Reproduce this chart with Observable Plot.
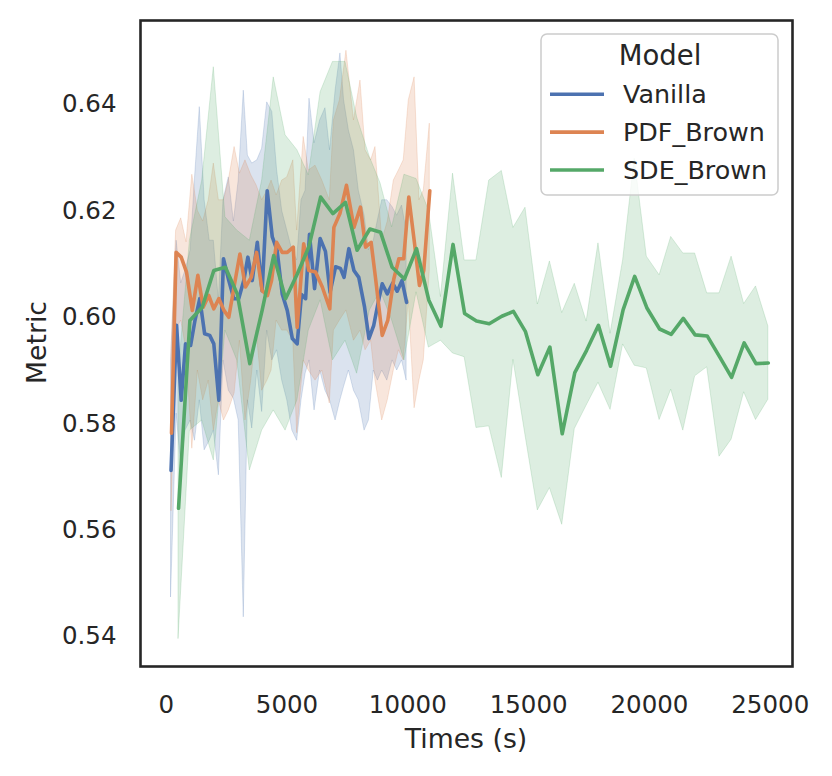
<!DOCTYPE html>
<html><head><meta charset="utf-8">
<script src="https://cdn.jsdelivr.net/npm/d3@7"></script>
<script src="https://cdn.jsdelivr.net/npm/@observablehq/plot@0.6"></script>
<style>body{margin:0;background:#fff;} #chart{width:832px;height:776px;}</style>
</head><body><div id="chart"></div>
<script>
const models = ["Vanilla", "PDF_Brown", "SDE_Brown"];
const colors = ["#4c72b0", "#dd8452", "#55a868"];
const xTicks = [0, 5000, 10000, 15000, 20000, 25000];
const yTicks = [0.54, 0.56, 0.58, 0.60, 0.62, 0.64];

const vanillaTime = [200,430,620,800,1010,1190,1390,1590,1800,1970,2180,2370,2590,2800,3000,3210,3380,3560,3770,3970,4180,4390,4590,4800,5010,5220,5420,5600,5770,5930,6140,6370,6590,6780,7010,7210,7360,7560,7770,7970,8210,8390,8590,8760,8940,9150,9370,9560,9760,9950];
const vanillaMean = [0.5712,0.5985,0.5844,0.5950,0.5947,0.5994,0.6035,0.5969,0.5966,0.5950,0.5844,0.6110,0.6069,0.6035,0.6035,0.6069,0.6113,0.6069,0.6141,0.6050,0.6238,0.6151,0.6126,0.6044,0.6013,0.5960,0.5950,0.6043,0.6035,0.6156,0.6054,0.6148,0.6124,0.6047,0.6095,0.6092,0.6075,0.6129,0.6088,0.6075,0.6019,0.5960,0.5985,0.6025,0.6063,0.6044,0.6064,0.6049,0.6069,0.6028];
const vanillaHigh = [0.592,0.6144,0.6064,0.6088,0.6126,0.626,0.6395,0.622,0.6144,0.6144,0.603,0.622,0.6263,0.618,0.6257,0.6426,0.6304,0.6289,0.6295,0.6317,0.6404,0.6386,0.6276,0.620,0.6163,0.6126,0.6107,0.622,0.6238,0.6411,0.6327,0.637,0.6393,0.6314,0.6426,0.6496,0.6408,0.6351,0.6314,0.6238,0.6191,0.6126,0.6144,0.6182,0.622,0.622,0.6207,0.6191,0.621,0.6163];
const vanillaLow = [0.5474,0.5819,0.572,0.5787,0.5806,0.5768,0.5844,0.5750,0.5768,0.5787,0.5703,0.5919,0.5862,0.5847,0.5806,0.5436,0.5844,0.5791,0.590,0.5822,0.5975,0.5919,0.5938,0.5881,0.5844,0.5787,0.5768,0.5844,0.5894,0.5919,0.5825,0.590,0.5862,0.5844,0.5806,0.5844,0.5869,0.590,0.5862,0.5844,0.5787,0.5806,0.590,0.5881,0.590,0.5881,0.5919,0.590,0.5919,0.5881];

const pdfTime = [220,410,620,840,1080,1310,1530,1760,1970,2180,2390,2590,2830,3050,3280,3520,3740,3970,4190,4360,4570,4800,5010,5260,5420,5690,5900,6180,6460,6770,6940,7190,7460,7770,8040,8250,8480,8660,8940,9170,9420,9630,9830,10040,10280,10480,10660,10910];
const pdfMean = [0.5782,0.6122,0.6113,0.6085,0.6013,0.6079,0.6019,0.6041,0.6016,0.6035,0.6013,0.6000,0.6063,0.6119,0.6057,0.6075,0.6122,0.6050,0.6041,0.6069,0.6141,0.6122,0.6122,0.6132,0.5981,0.6138,0.6088,0.6085,0.6057,0.6016,0.6169,0.6195,0.6248,0.6169,0.6207,0.6132,0.6141,0.6075,0.5966,0.5994,0.6072,0.6110,0.6110,0.6226,0.6138,0.6060,0.6088,0.6238];
const pdfHigh = [0.594,0.6163,0.6186,0.6141,0.6268,0.620,0.618,0.622,0.6289,0.622,0.622,0.6257,0.632,0.627,0.6295,0.6267,0.6248,0.622,0.6238,0.6257,0.6229,0.6257,0.6263,0.6295,0.6163,0.6339,0.6276,0.6285,0.6257,0.622,0.637,0.6408,0.6501,0.637,0.6445,0.6314,0.6295,0.632,0.6144,0.618,0.6257,0.6276,0.6295,0.6408,0.6451,0.622,0.6238,0.6364];
const pdfLow = [0.5636,0.5975,0.5994,0.5938,0.5753,0.590,0.5844,0.5881,0.5787,0.5844,0.5806,0.5825,0.5857,0.5956,0.5806,0.5881,0.5975,0.5862,0.5881,0.590,0.5994,0.5975,0.5975,0.5956,0.5782,0.5919,0.590,0.5881,0.590,0.5838,0.5975,0.5994,0.6013,0.5956,0.5975,0.5938,0.5956,0.5881,0.5806,0.5844,0.590,0.5938,0.5919,0.6032,0.5829,0.5881,0.5919,0.6088];

const sdeTime = [510,980,1490,1970,2450,2940,3460,3970,4450,4940,5430,5900,6390,6900,7420,7900,8430,8870,9350,9860,10360,10870,11370,11870,12350,12840,13370,13890,14370,14870,15380,15880,16390,16910,17400,17890,18390,18910,19390,19890,20420,20900,21400,21890,22390,22900,23400,23920,24410,24920];
const sdeMean = [0.5641,0.5994,0.6019,0.6088,0.6094,0.6044,0.5913,0.6013,0.6116,0.6035,0.6082,0.6132,0.6226,0.6195,0.6216,0.6126,0.6166,0.6160,0.6094,0.6072,0.6129,0.6032,0.5983,0.6137,0.6007,0.5993,0.5988,0.6002,0.6011,0.5973,0.5892,0.5944,0.5781,0.5896,0.5938,0.5985,0.5908,0.6014,0.6077,0.6018,0.5978,0.5968,0.5998,0.5967,0.5965,0.5926,0.5887,0.5952,0.5913,0.5914];
const sdeHigh = [0.5892,0.6144,0.6257,0.6470,0.6188,0.6163,0.6144,0.6257,0.6451,0.6342,0.6314,0.6267,0.6423,0.6480,0.6480,0.6376,0.6301,0.6252,0.6169,0.6268,0.6260,0.6201,0.6038,0.6270,0.6107,0.6107,0.6257,0.6275,0.6168,0.6206,0.6024,0.6105,0.6008,0.6063,0.5992,0.6139,0.5969,0.6107,0.6298,0.6114,0.6079,0.6151,0.6120,0.6120,0.6045,0.6045,0.6114,0.6025,0.6058,0.5983];
const sdeLow = [0.5396,0.5787,0.5806,0.5731,0.5975,0.5919,0.5712,0.5787,0.5825,0.5787,0.5844,0.5975,0.6032,0.5919,0.5956,0.5894,0.6013,0.6050,0.5994,0.5919,0.6047,0.5943,0.5956,0.5932,0.5925,0.5792,0.5795,0.5698,0.5920,0.5778,0.5637,0.5679,0.5610,0.5790,0.5834,0.5877,0.5826,0.5949,0.5909,0.5904,0.5807,0.5864,0.5787,0.5889,0.5906,0.5738,0.5770,0.5859,0.5807,0.5845];

const rows = [];
function add(model, t, m, lo, hi) {
  t.forEach((v, i) => rows.push({model, time: v, mean: m[i], low: lo[i], high: hi[i]}));
}
add(models[0], vanillaTime, vanillaMean, vanillaLow, vanillaHigh);
add(models[1], pdfTime, pdfMean, pdfLow, pdfHigh);
add(models[2], sdeTime, sdeMean, sdeLow, sdeHigh);

const ink = "#262626";
const plot = Plot.plot({
  width: 832, height: 776,
  marginLeft: 140, marginRight: 40, marginTop: 20, marginBottom: 110,
  x: {domain: [-1064, 25921]},
  y: {domain: [0.53436, 0.65579]},
  color: {domain: models, range: colors},
  style: {fontFamily: "DejaVu Sans", fontSize: "24.5px", color: ink, background: "#fff"},
  marks: [
    Plot.areaY(rows, {x: "time", y1: "low", y2: "high", z: "model", fill: "model", fillOpacity: 0.2, stroke: "model", strokeOpacity: 0.2, strokeWidth: 1}),
    Plot.lineY(rows, {x: "time", y: "mean", z: "model", stroke: "model", strokeWidth: 3.6}),
    Plot.frame({stroke: ink, strokeWidth: 2.6}),
    Plot.axisX({ticks: xTicks, tickSize: 0, tickPadding: 29, tickFormat: d => String(d), label: null, fontSize: 24.5}),
    Plot.axisY({ticks: yTicks, tickSize: 0, tickPadding: 24, tickFormat: d => d.toFixed(2), label: null, fontSize: 24.5})
  ]
});
document.getElementById("chart").appendChild(plot);

const svg = d3.select(plot);
svg.append("text").attr("x", 466).attr("y", 748).attr("text-anchor", "middle")
  .attr("font-size", "26.7px").attr("fill", ink).text("Times (s)");
svg.append("text").attr("transform", "translate(46,342.5) rotate(-90)").attr("text-anchor", "middle")
  .attr("font-size", "26.7px").attr("fill", ink).text("Metric");

const lg = svg.append("g");
lg.append("rect").attr("x", 541).attr("y", 34).attr("width", 237).attr("height", 161).attr("rx", 6)
  .attr("fill", "#fff").attr("fill-opacity", 0.8).attr("stroke", "#cccccc").attr("stroke-width", 1.5);
lg.append("text").attr("x", 660).attr("y", 65).attr("text-anchor", "middle")
  .attr("font-size", "27.5px").attr("fill", ink).text("Model");
models.forEach((m, i) => {
  const cy = 94.3 + i * 37.85;
  lg.append("line").attr("x1", 550).attr("x2", 604).attr("y1", cy).attr("y2", cy)
    .attr("stroke", colors[i]).attr("stroke-width", 3.6);
  lg.append("text").attr("x", 623).attr("y", cy + 9).attr("text-anchor", "start")
    .attr("font-size", "25.4px").attr("fill", ink).text(m);
});
</script></body></html>
